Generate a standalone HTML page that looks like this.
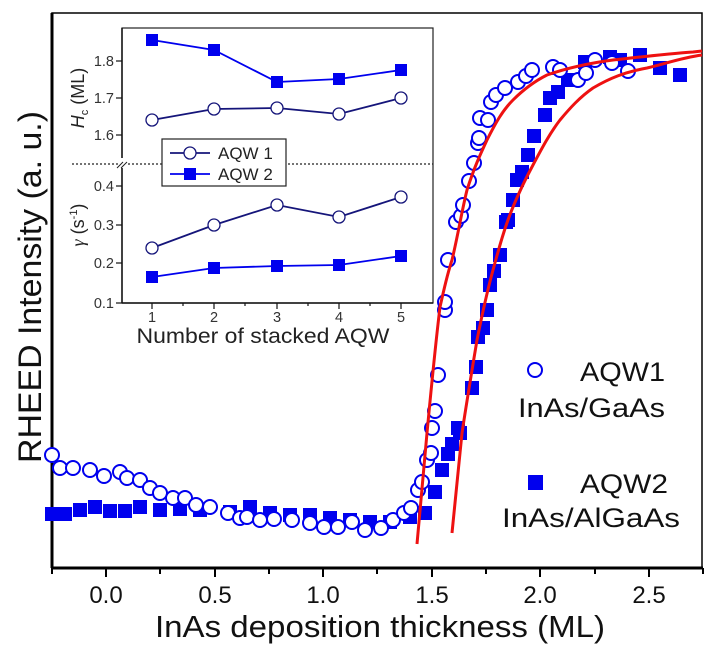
<!DOCTYPE html>
<html><head><meta charset="utf-8"><style>
html,body{margin:0;padding:0;background:#fff;}
svg{display:block;font-family:"Liberation Sans",Arial,sans-serif;}
</style></head><body>
<svg width="712" height="665" viewBox="0 0 712 665" xmlns="http://www.w3.org/2000/svg">
<rect width="712" height="665" fill="#fff"/>
<!-- main frame -->
<rect x="52" y="13" width="650" height="555" fill="none" stroke="#000" stroke-width="1.5"/>
<line x1="52" y1="13" x2="52" y2="568" stroke="#000" stroke-width="3"/>
<line x1="52" y1="568" x2="703" y2="568" stroke="#000" stroke-width="3"/>
<!-- x ticks -->
<g stroke="#000" stroke-width="2">
<line x1="106" y1="568" x2="106" y2="577"/><line x1="215" y1="568" x2="215" y2="577"/>
<line x1="323" y1="568" x2="323" y2="577"/><line x1="432" y1="568" x2="432" y2="577"/>
<line x1="540" y1="568" x2="540" y2="577"/><line x1="649" y1="568" x2="649" y2="577"/>
<line x1="52" y1="568" x2="52" y2="574"/><line x1="160" y1="568" x2="160" y2="574"/>
<line x1="269" y1="568" x2="269" y2="574"/><line x1="377" y1="568" x2="377" y2="574"/>
<line x1="486" y1="568" x2="486" y2="574"/><line x1="595" y1="568" x2="595" y2="574"/>
<line x1="703" y1="568" x2="703" y2="574"/>
</g>
<g font-size="24" text-anchor="middle" fill="#111">
<text x="106" y="603">0.0</text><text x="215" y="603">0.5</text><text x="323" y="603">1.0</text>
<text x="432" y="603">1.5</text><text x="540" y="603">2.0</text><text x="649" y="603">2.5</text>
</g>
<text x="380" y="637" font-size="31" text-anchor="middle" textLength="450" lengthAdjust="spacingAndGlyphs" fill="#111">InAs deposition thickness (ML)</text>
<text transform="translate(41,463) rotate(-90)" font-size="32" textLength="352" lengthAdjust="spacingAndGlyphs" fill="#111">RHEED Intensity (a. u.)</text>

<!-- data squares -->
<g fill="#0000ee">
<g id="sq">
</g>
</g>
<g fill="#0000ee">
<rect x="45" y="507" width="14" height="14"/><rect x="58" y="507" width="14" height="14"/><rect x="73" y="503" width="14" height="14"/>
<rect x="88" y="500" width="14" height="14"/><rect x="103" y="504" width="14" height="14"/><rect x="118" y="504" width="14" height="14"/>
<rect x="133" y="500" width="14" height="14"/><rect x="153" y="503" width="14" height="14"/><rect x="173" y="502" width="14" height="14"/>
<rect x="193" y="503" width="14" height="14"/><rect x="223" y="505" width="14" height="14"/><rect x="243" y="500" width="14" height="14"/>
<rect x="263" y="506" width="14" height="14"/><rect x="283" y="508" width="14" height="14"/><rect x="303" y="508" width="14" height="14"/>
<rect x="323" y="511" width="14" height="14"/><rect x="343" y="513" width="14" height="14"/><rect x="363" y="515" width="14" height="14"/>
<rect x="383" y="515" width="14" height="14"/><rect x="403" y="510" width="14" height="14"/><rect x="418" y="506" width="14" height="14"/>
<rect x="428" y="485" width="14" height="14"/><rect x="435" y="463" width="14" height="14"/><rect x="441" y="447" width="14" height="14"/>
<rect x="445" y="437" width="14" height="14"/><rect x="451" y="421" width="14" height="14"/><rect x="453" y="426" width="14" height="14"/>
<rect x="465" y="381" width="14" height="14"/><rect x="469" y="360" width="14" height="14"/><rect x="471" y="330" width="14" height="14"/>
<rect x="476" y="321" width="14" height="14"/><rect x="480" y="303" width="14" height="14"/><rect x="483" y="278" width="14" height="14"/>
<rect x="487" y="264" width="14" height="14"/><rect x="493" y="248" width="14" height="14"/><rect x="499" y="215" width="14" height="14"/>
<rect x="501" y="213" width="14" height="14"/><rect x="506" y="193" width="14" height="14"/><rect x="510" y="173" width="14" height="14"/>
<rect x="515" y="165" width="14" height="14"/><rect x="521" y="148" width="14" height="14"/><rect x="527" y="129" width="14" height="14"/>
<rect x="538" y="108" width="14" height="14"/><rect x="543" y="91" width="14" height="14"/><rect x="551" y="85" width="14" height="14"/>
<rect x="561" y="73" width="14" height="14"/><rect x="578" y="55" width="14" height="14"/><rect x="603" y="50" width="14" height="14"/>
<rect x="613" y="53" width="14" height="14"/><rect x="633" y="48" width="14" height="14"/><rect x="653" y="61" width="14" height="14"/>
<rect x="673" y="68" width="14" height="14"/>
</g>
<!-- data circles -->
<g fill="#fff" stroke="#0000ee" stroke-width="2">
<circle cx="52" cy="455" r="7"/><circle cx="60" cy="468" r="7"/><circle cx="73" cy="468" r="7"/><circle cx="90" cy="470" r="7"/>
<circle cx="104" cy="476" r="7"/><circle cx="120" cy="472" r="7"/><circle cx="127" cy="478" r="7"/><circle cx="140" cy="480" r="7"/>
<circle cx="150" cy="488" r="7"/><circle cx="160" cy="493" r="7"/><circle cx="173" cy="498" r="7"/><circle cx="185" cy="498" r="7"/>
<circle cx="196" cy="505" r="7"/><circle cx="210" cy="507" r="7"/><circle cx="228" cy="513" r="7"/><circle cx="240" cy="518" r="7"/>
<circle cx="247" cy="517" r="7"/><circle cx="260" cy="520" r="7"/><circle cx="274" cy="519" r="7"/><circle cx="292" cy="520" r="7"/>
<circle cx="310" cy="523" r="7"/><circle cx="324" cy="527" r="7"/><circle cx="338" cy="527" r="7"/><circle cx="352" cy="522" r="7"/>
<circle cx="365" cy="530" r="7"/><circle cx="381" cy="528" r="7"/><circle cx="393" cy="520" r="7"/><circle cx="404" cy="513" r="7"/>
<circle cx="411" cy="508" r="7"/><circle cx="418" cy="490" r="7"/><circle cx="422" cy="482" r="7"/><circle cx="427" cy="460" r="7"/>
<circle cx="431" cy="453" r="7"/><circle cx="432" cy="428" r="7"/><circle cx="435" cy="411" r="7"/><circle cx="438" cy="375" r="7"/>
<circle cx="445" cy="310" r="7"/><circle cx="445" cy="302" r="7"/><circle cx="448" cy="260" r="7"/><circle cx="456" cy="222" r="7"/>
<circle cx="461" cy="216" r="7"/><circle cx="463" cy="205" r="7"/><circle cx="469" cy="181" r="7"/><circle cx="474" cy="163" r="7"/>
<circle cx="478" cy="143" r="7"/><circle cx="479" cy="138" r="7"/><circle cx="480" cy="118" r="7"/><circle cx="488" cy="120" r="7"/>
<circle cx="491" cy="102" r="7"/><circle cx="496" cy="95" r="7"/><circle cx="505" cy="88" r="7"/><circle cx="518" cy="82" r="7"/>
<circle cx="526" cy="76" r="7"/><circle cx="532" cy="70" r="7"/><circle cx="553" cy="67" r="7"/><circle cx="560" cy="70" r="7"/>
<circle cx="578" cy="80" r="7"/><circle cx="586" cy="73" r="7"/><circle cx="595" cy="60" r="7"/><circle cx="612" cy="63" r="7"/>
<circle cx="628" cy="71" r="7"/>
</g>
<!-- fit curves -->
<g fill="none" stroke="#ee1111" stroke-width="3">
<path d="M417,544 L427,433 C432,380 436,340 440,307 C445,285 447,275 452,260 C458,235 462,210 467,190 C474,168 480,155 487,140 C496,122 503,110 513,100 C525,88 535,81 547,75 C570,67 590,63 613,60 C640,57 665,54 693,52 L702,51"/>
<path d="M452,533 L462,433 C467,400 472,370 477,340 C482,315 487,292 493,270 C499,248 505,226 513,207 C520,190 526,178 533,165 C542,148 550,133 560,120 C570,108 580,97 593,88 C610,78 625,72 647,68 C665,64 680,58 702,55"/>
</g>
<!-- right legend -->
<circle cx="535" cy="370" r="7" fill="#fff" stroke="#0000ee" stroke-width="2"/>
<text x="580" y="381" font-size="27" textLength="85" lengthAdjust="spacingAndGlyphs" fill="#111">AQW1</text>
<text x="518" y="417" font-size="27" textLength="147" lengthAdjust="spacingAndGlyphs" fill="#111">InAs/GaAs</text>
<rect x="528" y="475" width="15" height="15" fill="#0000ee"/>
<text x="580" y="493" font-size="27" textLength="88" lengthAdjust="spacingAndGlyphs" fill="#111">AQW2</text>
<text x="502" y="527" font-size="27" textLength="178" lengthAdjust="spacingAndGlyphs" fill="#111">InAs/AlGaAs</text>

<!-- inset -->
<rect x="122" y="28" width="311" height="275" fill="#fff" stroke="#222" stroke-width="1.2"/>
<line x1="122" y1="303" x2="433" y2="303" stroke="#111" stroke-width="1.5"/>
<line x1="122" y1="28" x2="122" y2="303" stroke="#111" stroke-width="1.5"/>
<line x1="72" y1="164" x2="433" y2="164" stroke="#222" stroke-width="1.2" stroke-dasharray="2,2"/>
<rect x="118" y="158" width="8" height="10" fill="#fff"/>
<path d="M117,168 l6,-6 M121,168 l6,-6" stroke="#222" stroke-width="1"/>
<g stroke="#111" stroke-width="1.2">
<line x1="116" y1="61" x2="122" y2="61"/><line x1="116" y1="98" x2="122" y2="98"/><line x1="116" y1="135" x2="122" y2="135"/>
<line x1="116" y1="186" x2="122" y2="186"/><line x1="116" y1="225" x2="122" y2="225"/><line x1="116" y1="263" x2="122" y2="263"/><line x1="116" y1="303" x2="122" y2="303"/>
<line x1="152" y1="303" x2="152" y2="309"/><line x1="214" y1="303" x2="214" y2="309"/><line x1="277" y1="303" x2="277" y2="309"/>
<line x1="339" y1="303" x2="339" y2="309"/><line x1="401" y1="303" x2="401" y2="309"/>
<line x1="183" y1="303" x2="183" y2="306"/><line x1="245" y1="303" x2="245" y2="306"/><line x1="308" y1="303" x2="308" y2="306"/><line x1="370" y1="303" x2="370" y2="306"/>
</g>
<g font-size="14.5" fill="#333" text-anchor="end">
<text x="114" y="66">1.8</text><text x="114" y="103">1.7</text><text x="114" y="140">1.6</text>
<text x="114" y="191">0.4</text><text x="114" y="230">0.3</text><text x="114" y="268">0.2</text><text x="114" y="308">0.1</text>
</g>
<g font-size="14.5" fill="#333" text-anchor="middle">
<text x="152" y="322">1</text><text x="214" y="322">2</text><text x="277" y="322">3</text><text x="339" y="322">4</text><text x="401" y="322">5</text>
</g>
<text x="263" y="343" font-size="21" text-anchor="middle" textLength="253" lengthAdjust="spacingAndGlyphs" fill="#222">Number of stacked AQW</text>
<text transform="translate(84,98) rotate(-90)" font-size="18" text-anchor="middle" fill="#222"><tspan font-style="italic">H</tspan><tspan font-size="11" dy="4">c</tspan><tspan dy="-4"> (ML)</tspan></text>
<text transform="translate(84,225) rotate(-90)" font-size="18" text-anchor="middle" fill="#222"><tspan font-style="italic" font-family="Liberation Serif">γ</tspan> (s<tspan font-size="11" dy="-7">-1</tspan><tspan dy="7">)</tspan></text>
<!-- inset series -->
<polyline points="152,40 214,50 277,82 339,79 401,70" fill="none" stroke="#0000ee" stroke-width="1.8"/>
<polyline points="152,120 214,109 277,108 339,114 401,98" fill="none" stroke="#15157a" stroke-width="1.8"/>
<polyline points="152,248 214,225 277,205 339,217 401,197" fill="none" stroke="#15157a" stroke-width="1.8"/>
<polyline points="152,277 214,268 277,266 339,265 401,256" fill="none" stroke="#0000ee" stroke-width="1.8"/>
<g fill="#0000ee">
<rect x="146" y="34" width="12" height="12"/><rect x="208" y="44" width="12" height="12"/><rect x="271" y="76" width="12" height="12"/><rect x="333" y="73" width="12" height="12"/><rect x="395" y="64" width="12" height="12"/>
<rect x="146" y="271" width="12" height="12"/><rect x="208" y="262" width="12" height="12"/><rect x="271" y="260" width="12" height="12"/><rect x="333" y="259" width="12" height="12"/><rect x="395" y="250" width="12" height="12"/>
</g>
<g fill="#fff" stroke="#15157a" stroke-width="1.3">
<circle cx="152" cy="120" r="6"/><circle cx="214" cy="109" r="6"/><circle cx="277" cy="108" r="6"/><circle cx="339" cy="114" r="6"/><circle cx="401" cy="98" r="6"/>
<circle cx="152" cy="248" r="6"/><circle cx="214" cy="225" r="6"/><circle cx="277" cy="205" r="6"/><circle cx="339" cy="217" r="6"/><circle cx="401" cy="197" r="6"/>
</g>
<!-- inset legend -->
<rect x="162" y="139" width="124" height="47" fill="#fff" stroke="#222" stroke-width="1.2"/>
<line x1="170" y1="153" x2="210" y2="153" stroke="#15157a" stroke-width="1.8"/>
<circle cx="190" cy="153" r="6" fill="#fff" stroke="#15157a" stroke-width="1.3"/>
<text x="218" y="159" font-size="17" fill="#222">AQW 1</text>
<line x1="170" y1="174" x2="210" y2="174" stroke="#0000ee" stroke-width="1.8"/>
<rect x="184" y="168" width="12" height="12" fill="#0000ee"/>
<text x="218" y="180" font-size="17" fill="#222">AQW 2</text>
</svg>
</body></html>
